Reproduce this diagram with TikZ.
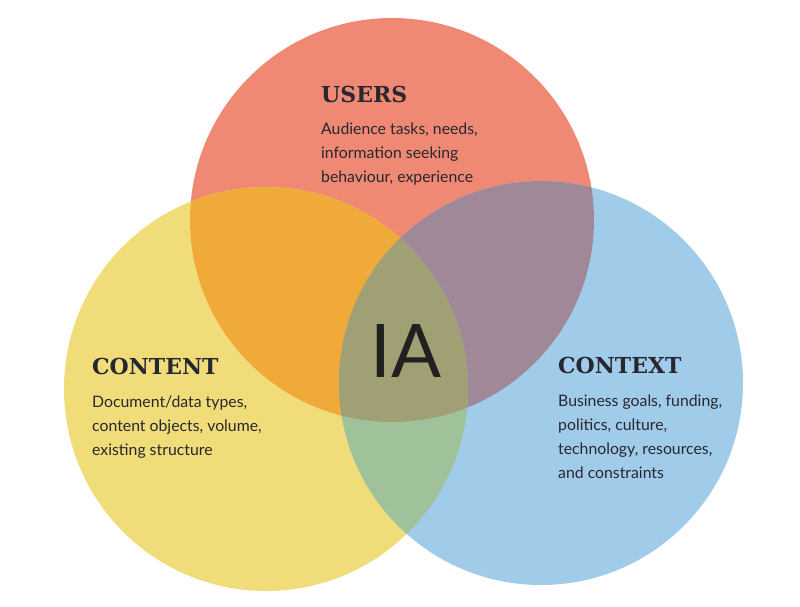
\documentclass[tikz,border=0pt]{standalone}
\usepackage{fontspec}
\setmainfont{Lato}
\newfontfamily\titlefont{DejaVu Serif}
\usetikzlibrary{positioning}

\definecolor{userred}{HTML}{F08974}
\definecolor{contyellow}{HTML}{F0DD7A}
\definecolor{ctxblue}{HTML}{A0CCE9}
\definecolor{ucorange}{HTML}{F0AA3A}
\definecolor{uxmauve}{HTML}{A08898}
\definecolor{cxgreen}{HTML}{A0C29A}
\definecolor{allolive}{HTML}{A0A074}
\definecolor{inkdark}{HTML}{272731}

\begin{document}
\begin{tikzpicture}[
  x=1pt, y=-1pt,
  title/.style={anchor=base west,inner sep=0pt,text=inkdark,font=\titlefont\bfseries\fontsize{22}{26}\selectfont},
  body/.style={inner sep=0pt,align=left,text=inkdark,font=\fontsize{15.8}{24}\selectfont}]
\useasboundingbox (0,0) rectangle (800,606);
\def\rad{202}
\coordinate (users) at (392,220);
\coordinate (content) at (266,389);
\coordinate (context) at (541,383);
% circles
\fill[userred] (users) circle (\rad);
\fill[contyellow] (content) circle (\rad);
\fill[ctxblue] (context) circle (\rad);
% overlaps
\begin{scope}
  \clip (users) circle (\rad);
  \fill[ucorange] (content) circle (\rad);
  \fill[uxmauve] (context) circle (\rad);
\end{scope}
\begin{scope}
  \clip (content) circle (\rad);
  \fill[cxgreen] (context) circle (\rad);
\end{scope}
\begin{scope}
  \clip (users) circle (\rad);
  \clip (content) circle (\rad);
  \fill[allolive] (context) circle (\rad);
\end{scope}
% labels
\node[title] (usersTitle) at (321,102) {USERS};
\node[body,below=21pt of usersTitle.base west,anchor=north west] (usersText) {Audience tasks, needs,\\information seeking\\behaviour, experience};
\node[title] (contentTitle) at (92,374) {CONTENT};
\node[body,below=22pt of contentTitle.base west,anchor=north west] (contentText) {Document/data types,\\content objects, volume,\\existing structure};
\node[title] (contextTitle) at (558,373) {CONTEXT};
\node[body,below=22pt of contextTitle.base west,anchor=north west] (contextText) {Business goals, funding,\\politics, culture,\\technology, resources,\\and constraints};
\node[anchor=base,inner sep=0pt,text=black!87,font=\fontsize{74}{80}\selectfont] (ia) at (406,377) {IA};
\end{tikzpicture}
\end{document}
